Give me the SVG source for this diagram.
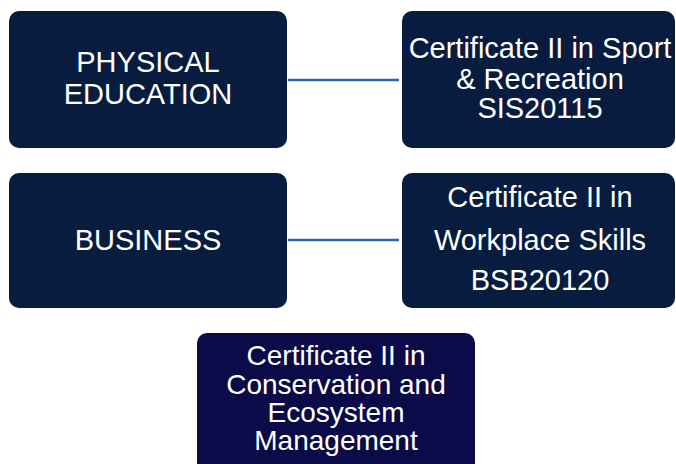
<svg xmlns="http://www.w3.org/2000/svg" width="676" height="464" viewBox="0 0 676 464">
<style>
.box{fill:#071c3f;}
.box2{fill:#0a0b48;}
.t{font-family:"Liberation Sans",Arial,sans-serif;font-size:29px;fill:#ffffff;text-anchor:middle;}
.c{stroke:#2766ae;stroke-width:2.5;fill:none;}
</style>
<rect width="676" height="464" fill="#ffffff"/>
<g id="connectors">
<line class="c" x1="288" y1="80" x2="399" y2="80"/>
<line class="c" x1="288" y1="240" x2="399" y2="240"/>
</g>
<g id="pe">
<rect class="box" x="9" y="11" width="278" height="137" rx="10"/>
<text class="t" x="148" y="72">PHYSICAL</text>
<text class="t" x="148" y="104">EDUCATION</text>
</g>
<g id="sport">
<rect class="box" x="402" y="11" width="273" height="137" rx="10"/>
<text class="t" x="540" y="58">Certificate II in Sport</text>
<text class="t" x="540" y="89">&amp; Recreation</text>
<text class="t" x="540" y="118">SIS20115</text>
</g>
<g id="business">
<rect class="box" x="9" y="173" width="278" height="135" rx="10"/>
<text class="t" x="148" y="250">BUSINESS</text>
</g>
<g id="workplace">
<rect class="box" x="402" y="173" width="273" height="135" rx="10"/>
<text class="t" x="540" y="207">Certificate II in</text>
<text class="t" x="540" y="250">Workplace Skills</text>
<text class="t" x="540" y="290">BSB20120</text>
</g>
<g id="conservation">
<rect class="box2" x="197" y="333" width="278" height="145" rx="10"/>
<text class="t" x="336" y="365" style="font-size:28px">Certificate II in</text>
<text class="t" x="336" y="394" style="font-size:28px">Conservation and</text>
<text class="t" x="336" y="422" style="font-size:28px">Ecosystem</text>
<text class="t" x="336" y="450" style="font-size:28px">Management</text>
</g>
</svg>
